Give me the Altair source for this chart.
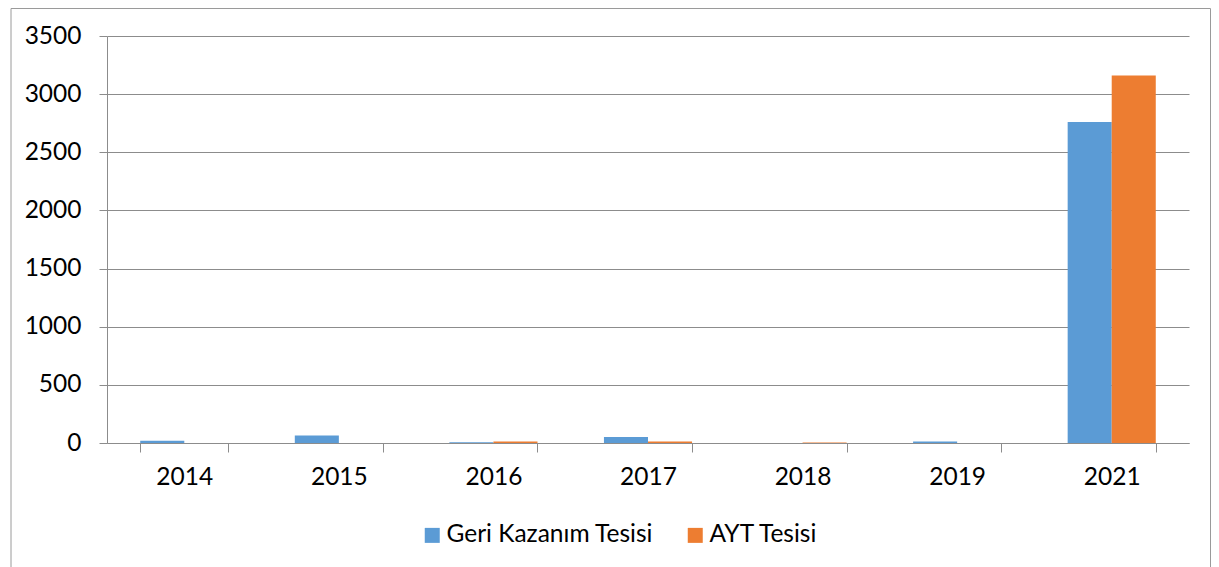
import altair as alt
import pandas as pd

years = ["2014", "2015", "2016", "2017", "2018", "2019", "2021"]
geri_kazanim = [20, 65, 6, 52, 0, 12, 2760]
ayt = [0, 0, 12, 12, 5, 0, 3160]
series = ["Geri Kazanım Tesisi", "AYT Tesisi"]
colors = ["#5B9BD5", "#ED7D31"]
y_ticks = [0, 500, 1000, 1500, 2000, 2500, 3000, 3500]

rows = []
for i, y in enumerate(years):
    rows.append({"year": y, "series": series[0], "value": geri_kazanim[i]})
    rows.append({"year": y, "series": series[1], "value": ayt[i]})
df = pd.DataFrame(rows)

FONT = "Lato"
FS = 24.5
GRAY = "#8c8c8c"

bars = alt.Chart(df).mark_bar().encode(
    x=alt.X(
        "year:N",
        sort=years,
        scale=alt.Scale(paddingInner=0.43, paddingOuter=0.215),
        axis=alt.Axis(
            title=None, labelAngle=0, tickBand="extent", grid=False,
            tickSize=9, labelPadding=13, domainColor=GRAY, tickColor=GRAY,
        ),
    ),
    xOffset=alt.XOffset("series:N", sort=series),
    y=alt.Y(
        "value:Q",
        scale=alt.Scale(domain=[0, 3500], nice=False),
        axis=alt.Axis(
            title=None, values=y_ticks, format="d", grid=True, gridColor=GRAY,
            tickSize=8, labelPadding=18, domainColor=GRAY, tickColor=GRAY,
        ),
    ),
    color=alt.Color(
        "series:N",
        sort=series,
        scale=alt.Scale(domain=series, range=colors),
        legend=alt.Legend(
            title=None, orient="none", legendX=313, legendY=487,
            direction="horizontal", symbolType="square", symbolSize=225,
            labelFontSize=FS, labelFont=FONT, labelColor="#000000",
            columnPadding=29, labelOffset=2, symbolStrokeWidth=0, labelLimit=400,
        ),
    ),
)

frame = alt.Chart(pd.DataFrame({"a": [0]})).mark_rect(
    fill="transparent", stroke="#9a9a9a", strokeWidth=1
).encode(
    x=alt.value(-96), x2=alt.value(1103.5), y=alt.value(-27.5), y2=alt.value(700)
)

chart = alt.layer(frame, bars).properties(
    width=1082,
    height=407,
    autosize=alt.AutoSizeParams(type="none"),
    padding={"left": 99, "top": 28, "right": 22, "bottom": 124},
).configure_view(strokeWidth=0).configure_axis(
    labelFont=FONT, labelFontSize=FS, labelColor="#000000"
)

chart.save("out.html", embed_options={"renderer": "svg", "actions": False})
